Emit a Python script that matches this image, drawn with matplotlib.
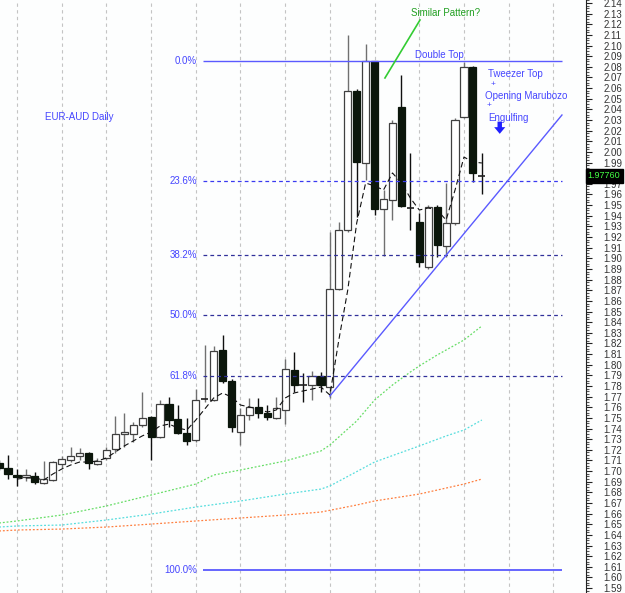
import numpy as np
import matplotlib
matplotlib.use("Agg")
import matplotlib.pyplot as plt
from matplotlib.ticker import MultipleLocator, FuncFormatter

plt.rcParams['font.family'] = ['Liberation Sans', 'DejaVu Sans']

# candle index (one per trading day, gridline every 5 days)
days = list(range(-2, 53))

opens = [1.7076, 1.7029, 1.6963, 1.6944, 1.6954, 1.6888, 1.6916, 1.7066, 1.7104, 1.7142,
         1.7170, 1.7066, 1.7123, 1.7207, 1.7348, 1.7348, 1.7433, 1.7508, 1.7320, 1.7630,
         1.7489, 1.7358, 1.7292, 1.7668, 1.7668, 1.8138, 1.7847, 1.7367, 1.7527, 1.7602,
         1.7546, 1.7499, 1.7574, 1.7950, 1.7818, 1.7809, 1.7894, 1.7790, 1.8711, 1.9266,
         2.0573, 1.9896, 2.0855, 1.9463, 1.9548, 2.0422, 1.9482, 1.9341, 1.8918, 1.9482,
         1.9116, 1.9332, 2.0328, 2.0798, 1.9785]
highs = [1.7104, 1.7151, 1.7019, 1.7019, 1.6991, 1.7095, 1.7095, 1.7142, 1.7226, 1.7217,
         1.7179, 1.7123, 1.7226, 1.7518, 1.7546, 1.7461, 1.7743, 1.7518, 1.7668, 1.7696,
         1.7621, 1.7499, 1.7771, 1.8185, 1.8176, 1.8279, 1.7865, 1.7593, 1.7687, 1.7687,
         1.7621, 1.7696, 1.8053, 1.8119, 1.7922, 1.7941, 1.7931, 1.9247, 1.9341, 2.1099,
         2.0591, 2.1014, 2.0855, 1.9642, 2.0300, 2.0723, 1.9990, 1.9426, 1.9501, 1.9501,
         1.9708, 2.0319, 2.0845, 2.0808, 1.9990]
lows = [1.7010, 1.6926, 1.6860, 1.6907, 1.6878, 1.6878, 1.6907, 1.7029, 1.7085, 1.7104,
        1.7019, 1.7057, 1.7104, 1.7170, 1.7226, 1.7273, 1.7414, 1.7104, 1.7311, 1.7414,
        1.7348, 1.7245, 1.7273, 1.7649, 1.7659, 1.7828, 1.7367, 1.7245, 1.7480, 1.7499,
        1.7480, 1.7489, 1.7442, 1.7743, 1.7649, 1.7668, 1.7743, 1.7687, 1.8702, 1.9247,
        1.9388, 1.9736, 1.9407, 1.9022, 1.9360, 1.9482, 1.9266, 1.8918, 1.8899, 1.9012,
        1.9012, 1.9313, 2.0319, 1.9717, 1.9604]
closes = [1.7029, 1.6972, 1.6944, 1.6963, 1.6897, 1.6926, 1.7085, 1.7113, 1.7142, 1.7170,
          1.7076, 1.7095, 1.7198, 1.7348, 1.7367, 1.7433, 1.7499, 1.7320, 1.7630, 1.7480,
          1.7358, 1.7283, 1.7668, 1.7677, 1.8129, 1.7847, 1.7414, 1.7527, 1.7602, 1.7546,
          1.7508, 1.7593, 1.7959, 1.7809, 1.7809, 1.7894, 1.7809, 1.8711, 1.9266, 2.0573,
          1.9905, 2.0855, 1.9463, 1.9557, 2.0272, 1.9492, 1.9473, 1.8965, 1.9482, 1.9125,
          1.9332, 2.0300, 2.0798, 1.9802, 1.9776]

# short moving average (black dashed), from day 0
ma_short = [1.6925, 1.6935, 1.6935, 1.6916, 1.6972, 1.7019, 1.7057, 1.7085, 1.7085, 1.7095,
            1.7123, 1.7179, 1.7236, 1.7283, 1.7330, 1.7367, 1.7424, 1.7442, 1.7405, 1.7386,
            1.7480, 1.7583, 1.7687, 1.7734, 1.7696, 1.7621, 1.7602, 1.7583, 1.7555, 1.7574,
            1.7687, 1.7734, 1.7753, 1.7771, 1.7790, 1.7715, 1.8232, 1.8702, 1.9332, 1.9708,
            1.9680, 1.9642, 1.9802, 1.9708, 1.9567, 1.9454, 1.9473, 1.9454, 1.9360, 1.9642,
            1.9952, 1.9905, 1.9896]

# longer moving averages (dotted)
ma_green_days = [-2, 0, 5, 10, 15, 20, 22, 25, 30, 34, 35, 38, 40, 42, 44, 45, 47, 50, 52]
ma_green = [1.6512, 1.6531, 1.6587, 1.6672, 1.6775, 1.6878, 1.6963, 1.7010, 1.7095, 1.7189,
            1.7245, 1.7471, 1.7668, 1.7809, 1.7931, 1.7988, 1.8091, 1.8232, 1.8364]
ma_cyan_days = [-2, 0, 5, 10, 15, 20, 25, 30, 34, 35, 40, 45, 48, 50, 52]
ma_cyan = [1.6474, 1.6484, 1.6493, 1.6540, 1.6596, 1.6662, 1.6719, 1.6784, 1.6831, 1.6860,
           1.7085, 1.7236, 1.7330, 1.7386, 1.7480]
ma_orange_days = [-2, 0, 5, 10, 15, 20, 25, 30, 34, 38, 40, 45, 50, 52]
ma_orange = [1.6437, 1.6446, 1.6455, 1.6474, 1.6502, 1.6531, 1.6559, 1.6587, 1.6615, 1.6681,
             1.6719, 1.6784, 1.6878, 1.6925]

fib_high = 2.0855
fib_low = 1.6070
fib_ratios = [0.0, 0.236, 0.382, 0.5, 0.618, 1.0]
fib_labels = ["0.0%", "23.6%", "38.2%", "50.0%", "61.8%", "100.0%"]

trend_x = [35.0, 60.96]
trend_y = [1.7706, 2.0347]

last_price = 1.97760

BLUE = '#4646ff'

fig = plt.figure(figsize=(6.25, 5.93), dpi=100, facecolor='#fdfefe')
ax = fig.add_axes([0, 0, 586 / 625, 1])
ax.set_facecolor('#fdfefe')

# moving averages
ax.plot(ma_green_days, ma_green, color='#66dd66', lw=0.9, ls=(0, (1.5, 1.5)), zorder=2)
ax.plot(ma_cyan_days, ma_cyan, color='#55dddd', lw=0.9, ls=(0, (1.5, 1.5)), zorder=2)
ax.plot(ma_orange_days, ma_orange, color='#ff7f3f', lw=0.9, ls=(0, (1.5, 1.5)), zorder=2)

# candles
o = np.array(opens)
c = np.array(closes)
x = np.array(days)
up = c >= o
ax.vlines(x[up], np.array(lows)[up], np.array(highs)[up], color='#707070', lw=1, zorder=3)
ax.vlines(x[~up], np.array(lows)[~up], np.array(highs)[~up], color='#101010', lw=1, zorder=3)
bottoms = np.minimum(o, c)
heights = np.abs(c - o)
doji = heights < 0.0012
body = ~doji
ax.bar(x[body & up], heights[body & up], bottom=bottoms[body & up], width=0.8,
       facecolor='white', edgecolor='#404040', lw=0.9, zorder=4)
ax.bar(x[body & ~up], heights[body & ~up], bottom=bottoms[body & ~up], width=0.8,
       facecolor='#0b160b', edgecolor='#0b160b', lw=0.9, zorder=4)
ax.hlines(c[doji], x[doji] - 0.4, x[doji] + 0.4, color='#202020', lw=1.2, zorder=4)

ax.plot(days[2:], ma_short, color='#111111', lw=0.8, ls=(0, (5, 3)), zorder=5)

# fibonacci retracement
for r, lab in zip(fib_ratios, fib_labels):
    lvl = fib_high - (fib_high - fib_low) * r
    if r in (0.0, 1.0):
        ax.hlines(lvl, 20.8, 60.96, color='#5a5aff', lw=1.3 if r == 1.0 else 1.0, zorder=6)
    else:
        col = '#3a3af0' if r == 0.236 else '#30309a'
        ax.hlines(lvl, 20.8, 60.96, color=col, lw=0.9, ls=(0, (3, 2.5)), zorder=6)
    ax.text(20.15, lvl, lab, color=BLUE, fontsize=7, ha='right', va='center', zorder=7)

# trendline and annotations
ax.plot(trend_x, trend_y, color='#5a5aff', lw=1, zorder=6)
ax.plot([41.16, 45.08], [2.0695, 2.1240], color='#33cc33', lw=1.2, zorder=6)

ax.text(47.99, 2.1306, "Similar Pattern?", color='#22a022', fontsize=7, ha='center', va='center')
ax.text(47.3, 2.0911, "Double Top", color=BLUE, fontsize=7, ha='center', va='center')
ax.text(3.13, 2.0328, "EUR-AUD Daily", color=BLUE, fontsize=7, ha='left', va='center')
ax.text(52.7, 2.0732, "Tweezer Top", color=BLUE, fontsize=7, ha='left', va='center')
ax.text(53.0, 2.0638, "+", color=BLUE, fontsize=6, ha='left', va='center')
ax.text(52.35, 2.0526, "Opening Marubozo", color=BLUE, fontsize=7, ha='left', va='center')
ax.text(52.57, 2.0432, "+", color=BLUE, fontsize=6, ha='left', va='center')
ax.text(52.7, 2.0319, "Engulfing", color=BLUE, fontsize=7, ha='left', va='center')
ax.annotate('', xy=(54.0, 2.0170), xytext=(54.0, 2.0285),
            arrowprops=dict(arrowstyle='simple,head_width=1.0,head_length=0.6,tail_width=0.4',
                            mutation_scale=8, color='#2020ff', lw=0,
                            shrinkA=0, shrinkB=0))

# axes
ax.set_xlim(-1.902, 63.65)
ax.set_ylim(1.5854, 2.1428)
ax.set_xticks(np.arange(0, 64, 5))
ax.tick_params(axis='x', length=0, labelbottom=False)
ax.grid(axis='x', color='#c4c4c4', lw=0.8, ls=(0, (3, 3)))
ax.set_axisbelow(True)
for s in ['top', 'left', 'bottom']:
    ax.spines[s].set_visible(False)
ax.spines['right'].set_color('#222222')
ax.yaxis.tick_right()
ax.yaxis.set_major_locator(MultipleLocator(0.01))
ax.yaxis.set_minor_locator(MultipleLocator(0.0025))
# the last-price box hides the 1.98 label
ax.yaxis.set_major_formatter(FuncFormatter(
    lambda v, pos: '' if abs(v - 1.98) < 0.004 else '%.2f' % v))
ax.tick_params(axis='y', which='major', length=4.3, width=0.8, pad=8, labelsize=7,
               labelcolor='#333333', color='#222222')
ax.tick_params(axis='y', which='minor', length=2, width=0.8, color='#555555')

ax.text(1.003, last_price, "%.5f" % last_price, transform=ax.get_yaxis_transform(),
        color='#44ff44', fontsize=6.5, ha='left', va='center', zorder=10, clip_on=False,
        bbox=dict(boxstyle='square,pad=0.25', facecolor='black', edgecolor='black'))

fig.savefig('out.png', dpi=100, facecolor=fig.get_facecolor())
